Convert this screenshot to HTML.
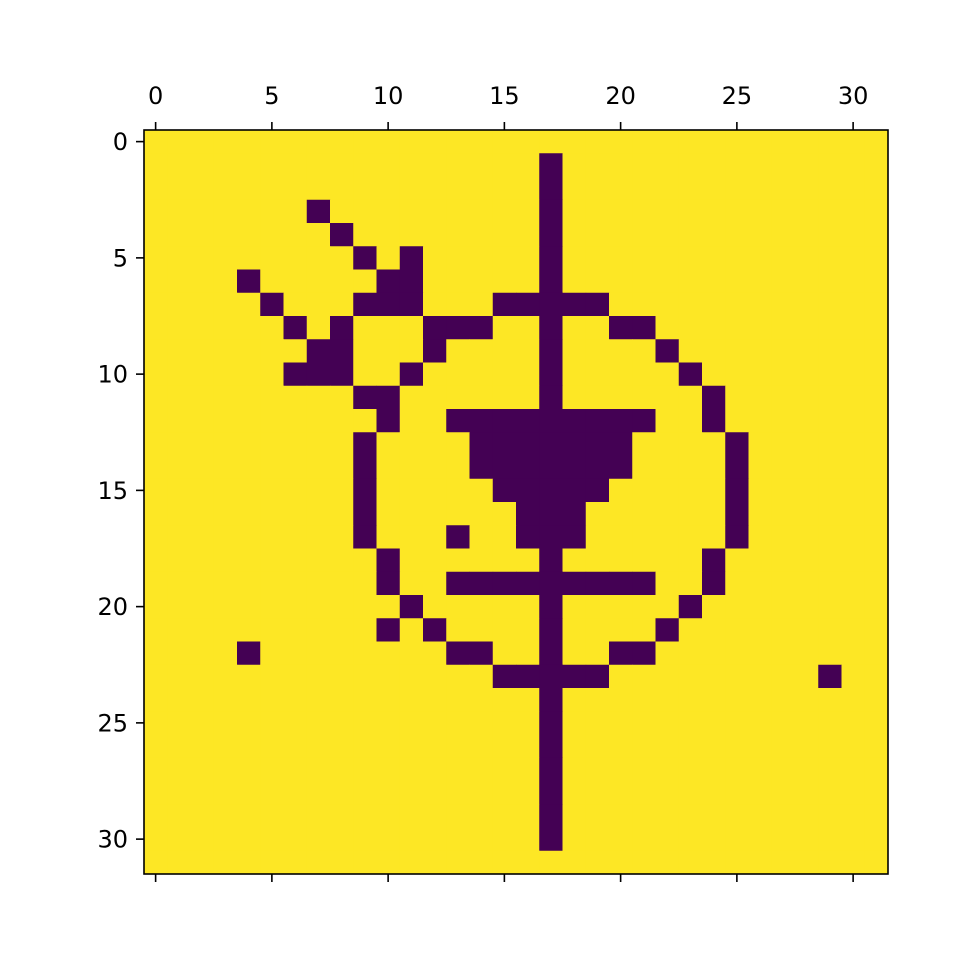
<!DOCTYPE html>
<html><head><meta charset="utf-8"><style>
html,body{margin:0;padding:0;background:#fff;}
svg text{font-family:"DejaVu Sans","Liberation Sans",sans-serif;font-size:24px;fill:#000;}
</style></head><body>
<svg id="chart" width="960" height="960" xmlns="http://www.w3.org/2000/svg">
<rect width="960" height="960" fill="#fff"/>
<g id="cells"></g>
<rect x="144" y="130" width="744" height="744" fill="none" stroke="#000" stroke-width="1.6"/>
<g id="axes"></g>
</svg>
<script>
// matrix rows (1 = dark)
const matrixRows = [
"00000000000000000000000000000000",
"00000000000000000100000000000000",
"00000000000000000100000000000000",
"00000001000000000100000000000000",
"00000000100000000100000000000000",
"00000000010100000100000000000000",
"00001000001100000100000000000000",
"00000100011100011111000000000000",
"00000010100011100100110000000000",
"00000001100010000100001000000000",
"00000011100100000100000100000000",
"00000000011000000100000010000000",
"00000000001001111111110010000000",
"00000000010000111111100001000000",
"00000000010000111111100001000000",
"00000000010000011111000001000000",
"00000000010000001110000001000000",
"00000000010001001110000001000000",
"00000000001000000100000010000000",
"00000000001001111111110010000000",
"00000000000100000100000100000000",
"00000000001010000100001000000000",
"00001000000001100100110000000000",
"00000000000000011111000000000100",
"00000000000000000100000000000000",
"00000000000000000100000000000000",
"00000000000000000100000000000000",
"00000000000000000100000000000000",
"00000000000000000100000000000000",
"00000000000000000100000000000000",
"00000000000000000100000000000000",
"00000000000000000000000000000000"
];
const xTickLabels = [0,5,10,15,20,25,30];
const yTickLabels = [0,5,10,15,20,25,30];

const NS="http://www.w3.org/2000/svg";
const X0=144,Y0=130,W=744,H=744;
const nR=matrixRows.length, nC=matrixRows[0].length;
const cw=W/nC, ch=H/nR;
function xs(c){return X0+c*cw;}
function ys(r){return Y0+r*ch;}
function xc(v){return X0+(v+0.5)*cw;}
function yc(v){return Y0+(v+0.5)*ch;}
const cells=document.getElementById('cells');
for(let r=0;r<nR;r++){for(let c=0;c<nC;c++){
  const el=document.createElementNS(NS,'rect');
  
  
  el.setAttribute('x',xs(c));el.setAttribute('y',ys(r));
  el.setAttribute('width',cw+0.4);el.setAttribute('height',ch+0.4);
  el.setAttribute('fill',matrixRows[r][c]==='1'?'#440154':'#fde725');
  cells.appendChild(el);
}}
const axes=document.getElementById('axes');
function line(x1,y1,x2,y2){const l=document.createElementNS(NS,'line');
  
  
  l.setAttribute('x1',x1);l.setAttribute('y1',y1);l.setAttribute('x2',x2);l.setAttribute('y2',y2);
  l.setAttribute('stroke','#000');l.setAttribute('stroke-width','1.6');axes.appendChild(l);}
xTickLabels.forEach(v=>{const x=xc(v);
  line(x,Y0,x,Y0-8);line(x,Y0+H,x,Y0+H+8);
  const t=document.createElementNS(NS,'text');
  
  
  t.setAttribute('x',x);t.setAttribute('y',Y0-26);t.setAttribute('text-anchor','middle');
  t.textContent=v;axes.appendChild(t);});
yTickLabels.forEach(v=>{const y=yc(v);
  line(X0,y,X0-8,y);
  const t=document.createElementNS(NS,'text');
  
  
  t.setAttribute('x',X0-16);t.setAttribute('y',y+8.5);t.setAttribute('text-anchor','end');
  t.textContent=v;axes.appendChild(t);});
</script>
</body></html>
